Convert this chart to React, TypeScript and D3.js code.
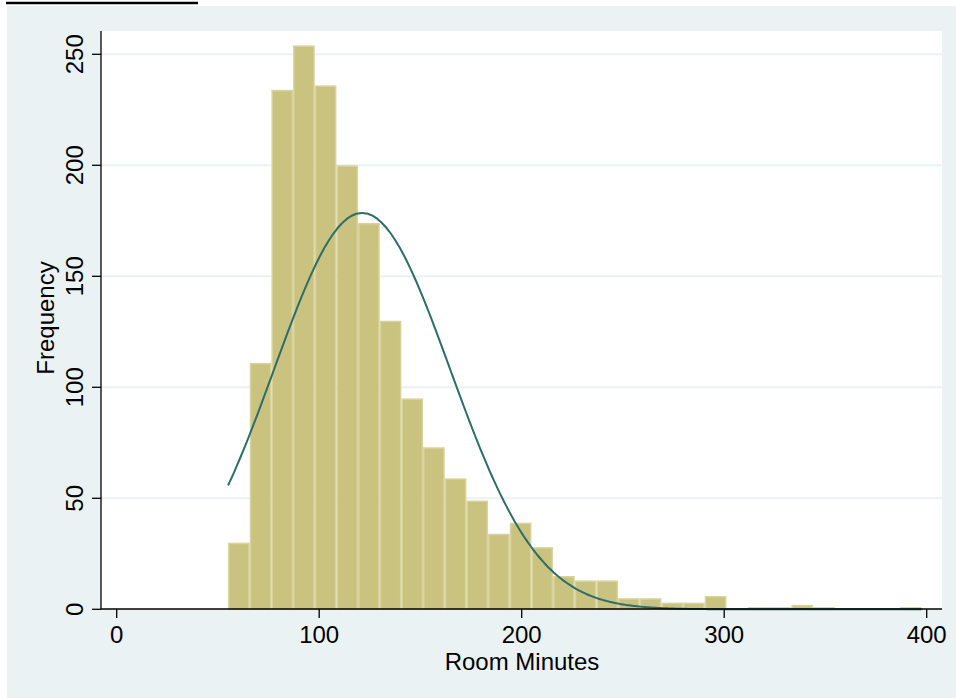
import React from 'react';
import * as d3 from 'd3';

const width = 956;
const height = 698;
const bgColor = '#eaf2f3';
const barFill = '#c9c37f';
const barLine = '#d8d39d';
const curveColor = '#2d6e69';
const font = '"Liberation Sans", Arial, Helvetica, sans-serif';

// histogram: 32 bins starting at 55 minutes
const binStart = 55;
const binWidth = 10.7;
const binCounts = [
  30, 111, 234, 254, 236, 200, 174, 130, 95, 73, 59, 49, 34, 39, 28, 15,
  13, 13, 5, 5, 3, 3, 6, 0, 1, 1, 2, 1, 0, 0, 0, 1
];

// fitted normal overlay
const curveMean = 121.2;
const curveSd = 43.4;

const xTicks = [0, 100, 200, 300, 400];
const yTicks = [0, 50, 100, 150, 200, 250];

const plot = { left: 101, top: 31, right: 942, bottom: 609 };

const xScale = d3.scaleLinear().domain([0, 400]).range([116.7, 926.7]);
const yScale = d3.scaleLinear().domain([0, 250]).range([609.3, 54.3]);

const total = d3.sum(binCounts);
const binEnd = binStart + binWidth * binCounts.length;

const normalFreq = (x: number) =>
  (total * binWidth) / (curveSd * Math.sqrt(2 * Math.PI)) *
  Math.exp(-0.5 * ((x - curveMean) / curveSd) ** 2);

const curvePoints = d3.range(binStart, binEnd + 0.01, (binEnd - binStart) / 300);
const curvePath = d3
  .line<number>()
  .x(d => xScale(d))
  .y(d => yScale(normalFreq(d)))
  .curve(d3.curveBasis)(curvePoints);

export default function App() {
  return (
    <div style={{ position: 'absolute', left: 0, top: 0 }}>
      <svg width={width} height={height} style={{ display: 'block' }}>
        <rect x={0} y={0} width={width} height={height} fill="#fff" />
        <line x1={6} x2={198} y1={3} y2={3} stroke="#000" strokeWidth={2.4} />
        <rect x={7} y={6} width={width - 7} height={height - 6} fill={bgColor} />
        <rect
          x={plot.left}
          y={plot.top}
          width={plot.right - plot.left}
          height={plot.bottom - plot.top}
          fill="#fff"
        />

        {/* grid */}
        {yTicks.filter(t => t > 0).map(t => (
          <line
            key={'g' + t}
            x1={plot.left}
            x2={plot.right}
            y1={yScale(t)}
            y2={yScale(t)}
            stroke={bgColor}
            strokeWidth={2}
          />
        ))}

        {/* bars */}
        {binCounts.map((c, i) => {
          if (c === 0) return null;
          const x0 = xScale(binStart + i * binWidth);
          const x1 = xScale(binStart + (i + 1) * binWidth);
          const y0 = yScale(c);
          return (
            <rect
              key={'b' + i}
              x={x0 + 0.75}
              y={y0 + 0.75}
              width={x1 - x0 - 1.5}
              height={yScale(0) - y0 - 0.75}
              fill={barFill}
              stroke={barLine}
              strokeWidth={1.5}
            />
          );
        })}

        <path d={curvePath || ''} fill="none" stroke={curveColor} strokeWidth={2} />

        {/* axes */}
        <line x1={plot.left} x2={plot.left} y1={plot.top} y2={plot.bottom} stroke="#000" strokeWidth={1.3} />
        <line x1={plot.left} x2={plot.right} y1={plot.bottom} y2={plot.bottom} stroke="#000" strokeWidth={1.3} />

        {yTicks.map(t => (
          <g key={'y' + t}>
            <line x1={92} x2={plot.left} y1={yScale(t)} y2={yScale(t)} stroke="#000" strokeWidth={1.3} />
            <text
              transform={`translate(83,${yScale(t)}) rotate(-90)`}
              textAnchor="middle"
              fontFamily={font}
              fontSize={24}
              fill="#000"
            >
              {t}
            </text>
          </g>
        ))}

        {xTicks.map(t => (
          <g key={'x' + t}>
            <line x1={xScale(t)} x2={xScale(t)} y1={plot.bottom} y2={618} stroke="#000" strokeWidth={1.3} />
            <text x={xScale(t)} y={643} textAnchor="middle" fontFamily={font} fontSize={24} fill="#000">
              {t}
            </text>
          </g>
        ))}

        <text x={522} y={670} textAnchor="middle" fontFamily={font} fontSize={24} fill="#000">
          Room Minutes
        </text>
        <text
          transform="translate(53.5,318) rotate(-90)"
          textAnchor="middle"
          fontFamily={font}
          fontSize={24}
          fill="#000"
        >
          Frequency
        </text>
      </svg>
    </div>
  );
}
